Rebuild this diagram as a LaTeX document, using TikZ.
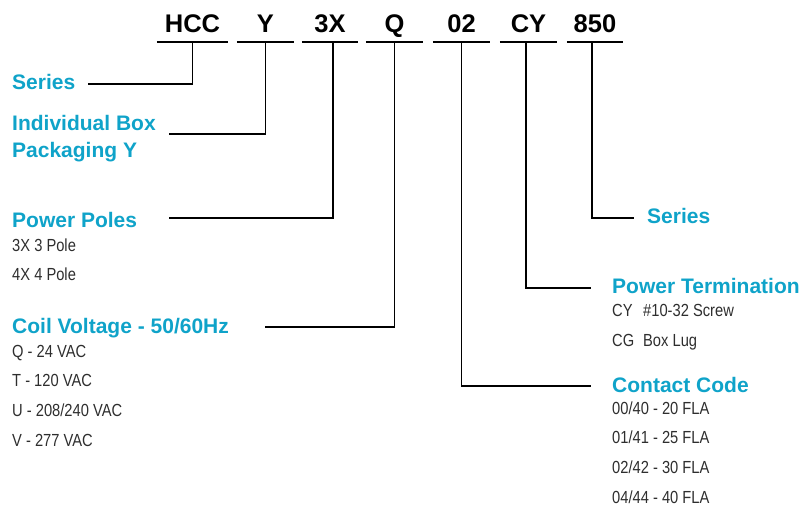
\documentclass[tikz,border=0pt]{standalone}
\usepackage{fontspec}
\usepackage{tikz}
\setmainfont{Liberation Sans}
\newfontfamily\bodyfont[FakeStretch=0.84]{Liberation Sans}
\definecolor{heading}{HTML}{0FA3C9}
\definecolor{bodytext}{HTML}{2E2E2E}
\newcommand{\tcode}[1]{\makebox[31pt][l]{#1}}

\begin{document}
\begin{tikzpicture}[x=1pt, y=-1pt,
  code/.style={font=\bfseries\fontsize{25.5}{30}\selectfont, anchor=base,
    inner xsep=0pt, inner ysep=9.5pt, text depth=0pt},
  head/.style={font=\bfseries\fontsize{21}{25}\selectfont, text=heading,
    anchor=base west, inner sep=0pt},
  item/.style={font=\bodyfont\fontsize{17.5}{20}\selectfont, text=bodytext,
    anchor=base west, inner sep=0pt},
  bar/.style={line width=2.4pt},
  wire/.style={line width=1.8pt}]
  \useasboundingbox (0,0) rectangle (801,509);
  % Part number
  \node[code, minimum width=71pt] (hcc) at (192.5,32) {HCC};
  \node[code, minimum width=57pt] (ybox) at (265.5,32) {Y};
  \node[code, minimum width=56pt] (poles) at (330,32) {3X};
  \node[code, minimum width=57pt] (coil) at (394.5,32) {Q};
  \node[code, minimum width=57pt] (contact) at (461.5,32) {02};
  \node[code, minimum width=57pt] (term) at (528.5,32) {CY};
  \node[code, minimum width=56pt] (series) at (595,32) {850};
  \foreach \n in {hcc,ybox,poles,coil,contact,term,series}
    \draw[bar] (\n.south west) -- (\n.south east);
  % Left side
  \node[head] (hccname) at (12,89) {Series};
  \node[head] (yboxname) at (12,130) {Individual Box};
  \node[head] (yboxnameb) at (12,157) {Packaging Y};
  \node[head] (polesname) at (12,227) {Power Poles};
  \node[item] (pole3) at (12,251) {3X 3 Pole};
  \node[item] (pole4) at (12,280) {4X 4 Pole};
  \node[head] (coilname) at (12,333) {Coil Voltage - 50/60Hz};
  \node[item] (coilq) at (12,357) {Q - 24 VAC};
  \node[item] (coilt) at (12,386) {T - 120 VAC};
  \node[item] (coilu) at (12,416) {U - 208/240 VAC};
  \node[item] (coilv) at (12,446) {V - 277 VAC};
  % Right side
  \node[head] (seriesname) at (647,223) {Series};
  \node[head] (termname) at (612,293) {Power Termination};
  \node[item] (termcy) at (612,316) {\tcode{CY}\#10-32 Screw};
  \node[item] (termcg) at (612,346) {\tcode{CG}Box Lug};
  \node[head] (contactname) at (612,392) {Contact Code};
  \node[item] (fla20) at (612,414) {00/40 - 20 FLA};
  \node[item] (fla25) at (612,443) {01/41 - 25 FLA};
  \node[item] (fla30) at (612,473) {02/42 - 30 FLA};
  \node[item] (fla40) at (612,503) {04/44 - 40 FLA};
  % Wire ends
  \coordinate (hccend) at (88,84);
  \coordinate (yboxend) at (169,134);
  \coordinate (polesend) at (169,218);
  \coordinate (coilend) at (265,327);
  \coordinate (seriesend) at (634,218);
  \coordinate (termend) at (591,288);
  \coordinate (contactend) at (591,386);
  % Leaders
  \draw[wire] (hcc.south) |- (hccend);
  \draw[wire] (ybox.south) |- (yboxend);
  \draw[wire] ([xshift=3pt]poles.south) |- (polesend);
  \draw[wire] (coil.south) |- (coilend);
  \draw[wire] ([xshift=-3pt]series.south) |- (seriesend);
  \draw[wire] ([xshift=-2.5pt]term.south) |- (termend);
  \draw[wire] (contact.south) |- (contactend);
\end{tikzpicture}
\end{document}
